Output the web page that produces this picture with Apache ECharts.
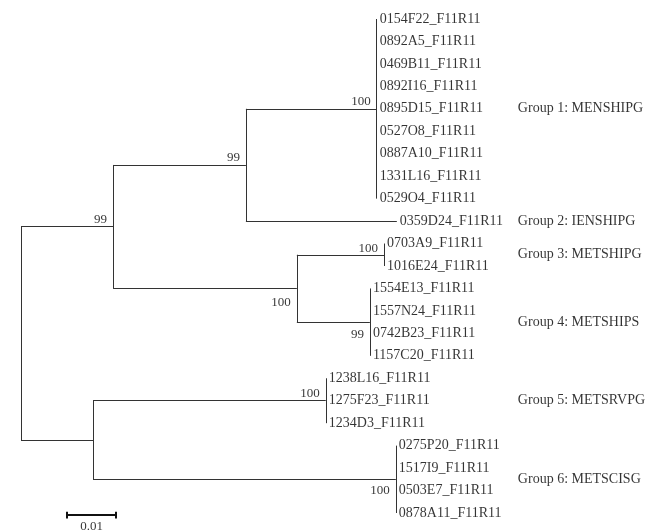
<!DOCTYPE html>
<html>
<head>
<meta charset="utf-8">
<title>tree</title>
<script src="https://cdn.jsdelivr.net/npm/echarts@6/dist/echarts.min.js"></script>
<style>
	html, body { margin: 0; padding: 0; background: #fff; }
	#tree_box { width: 647px; height: 531px; }
</style>
</head>
<body>
<div id="tree_box"></div>
<script>
/* leaf names, top to bottom */
var leafNames = [
	'0154F22_F11R11', '0892A5_F11R11', '0469B11_F11R11', '0892I16_F11R11', '0895D15_F11R11',
	'0527O8_F11R11', '0887A10_F11R11', '1331L16_F11R11', '0529O4_F11R11',
	'0359D24_F11R11',
	'0703A9_F11R11', '1016E24_F11R11',
	'1554E13_F11R11', '1557N24_F11R11', '0742B23_F11R11', '1157C20_F11R11',
	'1238L16_F11R11', '1275F23_F11R11', '1234D3_F11R11',
	'0275P20_F11R11', '1517I9_F11R11', '0503E7_F11R11', '0878A11_F11R11'
];
/* groups (clusters of leaves) */
var groupNames = ['Group 1: MENSHIPG', 'Group 2: IENSHIPG', 'Group 3: METSHIPG',
	'Group 4: METSHIPS', 'Group 5: METSRVPG', 'Group 6: METSCISG'];
var groupSize = [9, 1, 2, 4, 3, 4];
var groupDepth = [0.0726, 0.0767, 0.0741, 0.0712, 0.0622, 0.0765];
var groupParent = ['B', 'B', 'C', 'C', 'D', 'D'];
var groupSupport = [100, null, 100, 99, 100, 100];
/* internal nodes */
var nodeIds = ['root', 'A', 'B', 'C', 'D'];
var nodeParent = [null, 'root', 'A', 'A', 'root'];
var nodeDepth = [0, 0.0188, 0.0459, 0.0563, 0.0147];
var nodeSupport = [null, 99, 99, 100, null];
/* scale bar */
var scaleLength = 0.01;
var scaleLabel = '0.01';

var font = "'Liberation Serif', 'Times New Roman', serif";
/* vertical offset of support labels (negative = above branch) */
var supportOffset = { C: 14, G3: -6, G4: 12, G6: 11 };
var groupLabelX = 0.1014;
var scaleStart = 0.0094;
var scaleY = 22.09;

/* y of each leaf and group */
var leafData = [];
var groupY = [];
var segs = [];
var idx = 0;
for (var g = 0; g < groupSize.length; g++) {
	var first = idx;
	for (var k = 0; k < groupSize[g]; k++) {
		leafData.push({ value: [groupDepth[g], idx], name: leafNames[idx] });
		idx++;
	}
	var last = idx - 1;
	groupY.push((first + last) / 2);
	if (last > first) {
		segs.push({ coords: [[groupDepth[g], first], [groupDepth[g], last]] });
	}
}

/* internal node y = middle of children */
var children = {};
function addChild(p, c) {
	if (!children[p]) children[p] = [];
	children[p].push(c);
}
for (var g = 0; g < groupParent.length; g++) addChild(groupParent[g], 'G' + (g + 1));
for (var i = 0; i < nodeIds.length; i++) if (nodeParent[i]) addChild(nodeParent[i], nodeIds[i]);

function isGroup(id) {
	return id.charAt(0) === 'G' && id.length === 2;
}
function depthOf(id) {
	if (isGroup(id)) return groupDepth[+id.charAt(1) - 1];
	return nodeDepth[nodeIds.indexOf(id)];
}
var yCache = {};
function yOf(id) {
	if (isGroup(id)) return groupY[+id.charAt(1) - 1];
	if (yCache[id] !== undefined) return yCache[id];
	var ys = children[id].map(yOf);
	var y = (Math.min.apply(null, ys) + Math.max.apply(null, ys)) / 2;
	yCache[id] = y;
	return y;
}

var supportData = [];
function addSupport(id, val) {
	if (val === null) return;
	var dy = supportOffset[id] !== undefined ? supportOffset[id] : -7;
	supportData.push({
		value: [depthOf(id), yOf(id)],
		name: String(val),
		label: { offset: [0, dy] }
	});
}

for (var i = 0; i < nodeIds.length; i++) {
	var id = nodeIds[i];
	var kids = children[id];
	var ys = kids.map(yOf);
	segs.push({ coords: [[nodeDepth[i], Math.min.apply(null, ys)], [nodeDepth[i], Math.max.apply(null, ys)]] });
	for (var j = 0; j < kids.length; j++) {
		segs.push({ coords: [[nodeDepth[i], yOf(kids[j])], [depthOf(kids[j]), yOf(kids[j])]] });
	}
	addSupport(id, nodeSupport[i]);
}
for (var g = 0; g < groupSupport.length; g++) addSupport('G' + (g + 1), groupSupport[g]);

var groupData = [];
for (var g = 0; g < groupNames.length; g++) {
	groupData.push({ value: [groupLabelX, groupY[g]], name: groupNames[g] });
}

/* scale bar with end ticks */
var scaleSegs = [
	{ coords: [[scaleStart, scaleY], [scaleStart + scaleLength, scaleY]] },
	{ coords: [[scaleStart, scaleY - 0.15], [scaleStart, scaleY + 0.15]] },
	{ coords: [[scaleStart + scaleLength, scaleY - 0.15], [scaleStart + scaleLength, scaleY + 0.15]] }
];

var mychart = echarts.init(document.getElementById('tree_box'));
var option = {
	animation: false,
	grid: { left: 21, right: 0, top: 19, bottom: 18 },
	xAxis: { type: 'value', min: 0, max: 626 / 4900, show: false },
	yAxis: { type: 'value', min: 0, max: 22, inverse: true, show: false },
	series: [{
		type: 'lines',
		coordinateSystem: 'cartesian2d',
		clip: false,
		silent: true,
		lineStyle: { color: '#333', width: 1, opacity: 1, curveness: 0 },
		data: segs
	}, {
		type: 'lines',
		coordinateSystem: 'cartesian2d',
		clip: false,
		silent: true,
		lineStyle: { color: '#111', width: 2, opacity: 1 },
		data: scaleSegs
	}, {
		type: 'scatter',
		clip: false,
		silent: true,
		symbolSize: 0,
		label: {
			show: true, position: 'right', distance: 3, formatter: '{b}',
			fontFamily: font, fontSize: 14, color: '#000'
		},
		data: leafData
	}, {
		type: 'scatter',
		clip: false,
		silent: true,
		symbolSize: 0,
		label: {
			show: true, position: 'left', distance: 6, formatter: '{b}',
			fontFamily: font, fontSize: 13, color: '#000'
		},
		data: supportData
	}, {
		type: 'scatter',
		clip: false,
		silent: true,
		symbolSize: 0,
		label: {
			show: true, position: 'right', distance: 0, formatter: '{b}',
			fontFamily: font, fontSize: 14, color: '#000'
		},
		data: groupData
	}, {
		type: 'scatter',
		clip: false,
		silent: true,
		symbolSize: 0,
		label: {
			show: true, position: 'bottom', distance: 5, formatter: '{b}',
			fontFamily: font, fontSize: 13, color: '#000'
		},
		data: [{ value: [scaleStart + scaleLength / 2, scaleY], name: scaleLabel }]
	}]
};
mychart.setOption(option);
</script>
</body>
</html>
